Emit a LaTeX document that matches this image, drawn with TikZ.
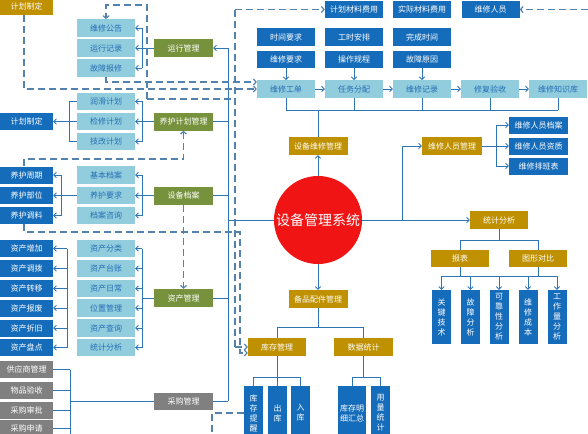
\documentclass[tikz,border=0pt]{standalone}
\usepackage{fontspec}
\setmainfont{Noto Sans CJK SC}
\usetikzlibrary{arrows.meta}
\definecolor{cBlue}{RGB}{21,108,186}
\definecolor{cLight}{RGB}{146,205,222}
\definecolor{cBlueT}{RGB}{36,110,180}
\definecolor{cOlive}{RGB}{118,146,60}
\definecolor{cGold}{RGB}{191,144,0}
\definecolor{cGray}{RGB}{128,128,128}
\definecolor{cLine}{RGB}{46,117,182}
\definecolor{cDash}{RGB}{84,130,175}
\definecolor{cRed}{RGB}{240,20,20}
\tikzset{
  box/.style={inner sep=0pt, minimum height=17pt, font=\fontsize{8}{9.6}\selectfont, align=center},
  dbox/.style={box, fill=cBlue, text=white, minimum width=53pt},
  tbox/.style={box, fill=cBlue, text=white, minimum width=58pt, minimum height=17.5pt},
  lbox/.style={box, fill=cLight, text=cBlueT, minimum width=58pt, minimum height=17.5pt},
  obox/.style={box, fill=cOlive, text=white, minimum width=59pt, minimum height=18pt},
  ybox/.style={box, fill=cGold, text=white, minimum width=59pt, minimum height=18pt},
  gbox/.style={box, fill=cGray, text=white, minimum width=53pt},
  vbox/.style={inner sep=0pt, fill=cBlue, text=white, minimum width=19pt, minimum height=54pt, font=\fontsize{8}{10}\selectfont, align=center},
  conn/.style={draw=cLine, line width=0.9pt},
  arr/.style={conn, -{Straight Barb[length=2.6pt,width=5.5pt]}},
  dsh/.style={draw=cDash, line width=1.2pt, dash pattern=on 7pt off 4pt},
  darr/.style={dsh, -{Straight Barb[length=2.6pt,width=6pt]}}
}
\begin{document}
\begin{tikzpicture}[x=1pt,y=-1pt]
\useasboundingbox (0,0) rectangle (588,433);
\clip (0,0) rectangle (588,433);
% helper coordinates
\coordinate (X24) at (24,0);
\coordinate (X61) at (61,0);
\coordinate (X67) at (67,0);
\coordinate (X69) at (69,0);
\coordinate (X70) at (70,0);
\coordinate (X142) at (142,0);
\coordinate (X228) at (228,0);
\coordinate (X402) at (402,0);
\coordinate (X496) at (496,0);
\coordinate (Y82) at (0,82);
\coordinate (Y89) at (0,89);
\coordinate (Y110) at (0,110);
\coordinate (Y240) at (0,240);
\coordinate (Y276) at (0,276);
\coordinate (Y327) at (0,327);
\coordinate (Y353) at (0,353);
\coordinate (Y377) at (0,377);
\coordinate (Y413) at (0,413);

% left column
\node[ybox, minimum width=53pt, minimum height=17pt] (p1) at (26.5,6.5) {计划制定};
\node[dbox] (p2) at (26.5,121.5) {计划制定};
\node[dbox] (m1) at (26.5,175) {养护周期};
\node[dbox] (m2) at (26.5,195.5) {养护部位};
\node[dbox] (m3) at (26.5,215.5) {养护调料};
\node[dbox] (a1) at (26.5,248.5) {资产增加};
\node[dbox] (a2) at (26.5,268.5) {资产调拨};
\node[dbox] (a3) at (26.5,288.5) {资产转移};
\node[dbox] (a4) at (26.5,308) {资产报废};
\node[dbox] (a5) at (26.5,328) {资产折旧};
\node[dbox] (a6) at (26.5,347.5) {资产盘点};
\node[gbox] (g1) at (26.5,369.5) {供应商管理};
\node[gbox] (g2) at (26.5,390) {物品验收};
\node[gbox] (g3) at (26.5,410.5) {采购审批};
\node[gbox] (g4) at (26.5,428) {采购申请};

% light column
\node[lbox] (l1) at (106,28) {维修公告};
\node[lbox] (l2) at (106,48) {运行记录};
\node[lbox] (l3) at (106,68) {故障报修};
\node[lbox] (l4) at (106,101.5) {润滑计划};
\node[lbox] (l5) at (106,121.5) {检修计划};
\node[lbox] (l6) at (106,141.5) {技改计划};
\node[lbox] (l7) at (106,175) {基本档案};
\node[lbox] (l8) at (106,195.5) {养护要求};
\node[lbox] (l9) at (106,215.5) {档案咨询};
\node[lbox] (l10) at (106,248.5) {资产分类};
\node[lbox] (l11) at (106,268.5) {资产台账};
\node[lbox] (l12) at (106,288.5) {资产日常};
\node[lbox] (l13) at (106,308) {位置管理};
\node[lbox] (l14) at (106,328) {资产查询};
\node[lbox] (l15) at (106,347.5) {统计分析};

% olive column
\node[obox] (o1) at (183.5,48) {运行管理};
\node[obox] (o2) at (183.5,121.5) {养护计划管理};
\node[obox] (o3) at (183.5,195.5) {设备档案};
\node[obox] (o4) at (183.5,298) {资产管理};
\node[gbox, minimum width=59pt] (o5) at (183.5,401) {采购管理};

% top area
\node[tbox] (t1) at (354,9.5) {计划材料费用};
\node[tbox] (t2) at (422,9.5) {实际材料费用};
\node[tbox] (t3) at (490.5,9.5) {维修人员};
\node[tbox] (r1) at (286,37) {时间要求};
\node[tbox] (r2) at (354,37) {工时安排};
\node[tbox] (r3) at (422,37) {完成时间};
\node[tbox] (s1) at (286,59.5) {维修要求};
\node[tbox] (s2) at (354,59.5) {操作规程};
\node[tbox] (s3) at (422,59.5) {故障原因};
\node[lbox] (w1) at (286,89) {维修工单};
\node[lbox] (w2) at (354,89) {任务分配};
\node[lbox] (w3) at (422,89) {维修记录};
\node[lbox] (w4) at (490,89) {修复验收};
\node[lbox] (w5) at (558,89) {维修知识库};

% center
\node[ybox] (sm) at (318,146) {设备维修管理};
\node[circle, fill=cRed, minimum size=88pt, inner sep=0pt, text=white, font=\fontsize{14}{16}\selectfont] (c) at (318,220) {设备管理系统};
\node[ybox] (bp) at (318,299) {备品配件管理};
\node[ybox, minimum width=58pt] (kc) at (277,347) {库存管理};
\node[ybox] (sj) at (363.5,347) {数据统计};
\node[vbox] (k1) at (253.5,413) {库\\存\\提\\醒};
\node[vbox] (k2) at (277.5,413) {出\\库};
\node[vbox] (k3) at (300.5,413) {入\\库};
\node[vbox, minimum width=28pt] (k4) at (352,413) {库存明\\细汇总};
\node[vbox] (k5) at (380.5,413) {用\\量\\统\\计};

% right
\node[ybox, minimum width=60pt] (pm) at (452,146) {维修人员管理};
\node[tbox, minimum width=59pt, minimum height=17pt] (pb1) at (538.5,125) {维修人员档案};
\node[tbox, minimum width=59pt, minimum height=17pt] (pb2) at (538.5,146) {维修人员资质};
\node[tbox, minimum width=59pt, minimum height=17pt] (pb3) at (538.5,166) {维修排班表};
\node[ybox, minimum width=58pt] (st) at (499,220) {统计分析};
\node[ybox, minimum width=58pt, minimum height=17pt] (bb) at (460,258.5) {报表};
\node[ybox, minimum width=58pt, minimum height=17pt] (tx) at (538,258.5) {图形对比};
\node[vbox] (v1) at (441.5,317) {关\\键\\技\\术};
\node[vbox] (v2) at (470.5,317) {故\\障\\分\\析};
\node[vbox] (v3) at (499,317) {可\\靠\\性\\分\\析};
\node[vbox] (v4) at (528,317) {维\\修\\成\\本};
\node[vbox] (v5) at (557,317) {工\\作\\量\\分\\析};

% ---- solid connectors ----
% bus
\draw[conn] (o1.east -| X228) -- (o5.east -| X228);
\draw[arr] (o1.east -| X228) -- (o1.east);
\draw[conn] (o2.east) -- (o2.east -| X228);
\draw[conn] (o3.east) -- (o3.east -| X228);
\draw[conn] (o4.east) -- (o4.east -| X228);
\draw[conn] (o5.east) -- (o5.east -| X228);
\draw[conn] (c.west -| X228) -- (c.west);
% combs to light boxes
\draw[conn] (o1.west) -- (o1.west -| X142);
\draw[conn] (l1.east -| X142) -- (l3.east -| X142);
\foreach \n in {l1,l2,l3} \draw[arr] (\n.east -| X142) -- (\n.east);
\draw[conn] (o2.west) -- (o2.west -| X142);
\draw[conn] (l4.east -| X142) -- (l6.east -| X142);
\foreach \n in {l4,l5,l6} \draw[arr] (\n.east -| X142) -- (\n.east);
\draw[conn] (o3.west) -- (o3.west -| X142);
\draw[conn] (l7.east -| X142) -- (l9.east -| X142);
\foreach \n in {l7,l8,l9} \draw[arr] (\n.east -| X142) -- (\n.east);
\draw[conn] (o4.west) -- (o4.west -| X142);
\draw[conn] (l10.east -| X142) -- (l15.east -| X142);
\foreach \n in {l10,l11,l12,l13,l14,l15} \draw[arr] (\n.east -| X142) -- (\n.east);
% left combs
\foreach \n in {l4,l5,l6} \draw[conn] (\n.west) -- (\n.west -| X69);
\draw[conn] (l4.west -| X69) -- (l6.west -| X69);
\draw[arr] (l5.west -| X69) -- (p2.east);
\draw[conn] (l8.west) -- (l8.west -| X61);
\draw[conn] (m1.east -| X61) -- (m3.east -| X61);
\foreach \n in {m1,m2,m3} \draw[arr] (\n.east -| X61) -- (\n.east);
\draw[conn] (a1.east -| X67) -- (a6.east -| X67);
\foreach \n in {a1,a2,a3,a4,a5,a6} \draw[arr] (\n.east -| X67) -- (\n.east);
\draw[conn] (o5.west) -- (o5.west -| X70);
\draw[conn] (g1.east -| X70) -- (70,440);
\foreach \n in {g1,g2,g3,g4} \draw[conn] (\n.east) -- (\n.east -| X70);
% top area
\draw[arr] (s1) -- (w1);
\draw[arr] (s2) -- (w2);
\draw[arr] (s3) -- (w3);
\draw[arr] (w1) -- (w2);
\draw[arr] (w2) -- (w3);
\draw[arr] (w3) -- (w4);
\draw[arr] (w4) -- (w5);
\foreach \n in {w1,w2,w3,w4,w5} \draw[conn] (\n.south) -- (\n.south |- Y110);
\draw[conn] (w1.south |- Y110) -- (w5.south |- Y110);
\draw[conn] (sm.north |- Y110) -- (sm.north);
\draw[arr] (c.north) -- (sm.south);
\draw[arr] (c.south) -- (bp.north);
% right side
\draw[arr] (c.east) -- (st.west);
\draw[arr] (c.east -| X402) |- (pm.west);
\draw[conn] (pm.east) -- (pm.east -| X496);
\draw[conn] (pb1.west -| X496) -- (pb3.west -| X496);
\foreach \n in {pb1,pb2,pb3} \draw[arr] (\n.west -| X496) -- (\n.west);
\draw[conn] (st.south) -- (st.south |- Y240);
\draw[conn] (bb.north |- Y240) -- (tx.north |- Y240);
\draw[conn] (bb.north |- Y240) -- (bb.north);
\draw[conn] (tx.north |- Y240) -- (tx.north);
\draw[conn] (bb.south) -- (bb.south |- Y276);
\draw[conn] (tx.south) -- (tx.south |- Y276);
\draw[conn] (v1.north |- Y276) -- (v5.north |- Y276);
\foreach \n in {v1,v2,v3,v4,v5} \draw[arr] (\n.north |- Y276) -- (\n.north);
% bottom center
\draw[conn] (bp.south) -- (bp.south |- Y327);
\draw[conn] (kc.north |- Y327) -- (sj.north |- Y327);
\draw[conn] (kc.north |- Y327) -- (kc.north);
\draw[conn] (sj.north |- Y327) -- (sj.north);
\draw[conn] (kc.south) -- (kc.south |- Y377);
\draw[conn] (k1.north |- Y377) -- (k3.north |- Y377);
\foreach \n in {k1,k2,k3} \draw[conn] (\n.north |- Y377) -- (\n.north);
\draw[conn] (sj.south) -- (sj.south |- Y377);
\draw[conn] (k4.north |- Y377) -- (k5.north |- Y377);
\foreach \n in {k4,k5} \draw[conn] (\n.north |- Y377) -- (\n.north);

% ---- dashed connectors ----
\draw[darr] (p1.south -| X24) |- (w1.west |- Y89);
\draw[darr] (l3.south) |- (w1.west |- Y82);
\draw[darr] (147,99) -- (147,5) -| (l1.north);
\draw[dsh] (147,99) -- (235,99);
\draw[dsh] (235,347) -- (235,9.5);
\draw[darr] (235,9.5) -- (t1.west);
\draw[darr] (235,347) -- (kc.west);
\draw[darr] (m3.south -| X24) |- (240,232) -- (240,353) -- (kc.west |- Y353);
\draw[darr] (m1.north -| X24) |- (183.5,159) -- (o2.south);
\draw[darr] (o3.south) -- (o4.north);
\draw[dsh] (k1.west |- Y413) -- (212,413) -- (212,440);
\draw[darr] (588,9.5) -- (t3.east);
\end{tikzpicture}
\end{document}
